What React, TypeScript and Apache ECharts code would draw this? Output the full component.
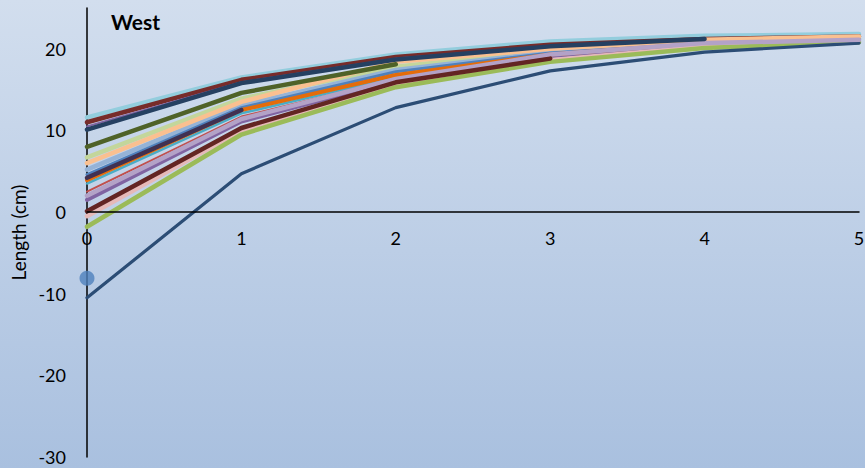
import React, { useEffect, useRef } from "react";
import * as echarts from "echarts";

const xValues = [0, 1, 2, 3, 4, 5];

const seriesNames = [
  "s1", "s2", "s3", "s4", "s5", "s6", "s7", "s8", "s9", "s10",
  "s11", "s12", "s13", "s14", "s15", "s16", "s17", "s18", "s19",
];

const seriesColors = [
  "#93CDDD", "#772C2A", "#8064A2", "#254061", "#4F6228", "#C3D69B", "#FAC090",
  "#95B3D7", "#4F81BD", "#403152", "#E46C0A", "#4BACC6", "#C0504D", "#B3A2C7",
  "#8064A2", "#632523", "#E6B9B8", "#9BBB59", "#2C4D75",
];

const seriesWidths = [4.5, 4.5, 2, 4.5, 4.5, 4.5, 4.5, 4.5, 3, 4.5, 4, 2.5, 2, 4.5, 4, 4.5, 4.5, 4.5, 3.2];

const seriesLayer = [2, 2, 2, 6, 6, 2, 4, 2, 2, 6, 3, 2, 2, 4, 2, 6, 3, 3, 3];

const seriesValues: number[][] = [
  [11.6, 16.5, 19.3, 20.9, 21.6, 21.8],
  [11.0, 16.2, 19.0, 20.5, 21.2, 21.5],
  [10.5, 15.9, 18.8, 20.3, 21.1, 21.4],
  [10.1, 15.8, 18.7, 20.3, 21.2],
  [8.0, 14.6, 18.1],
  [6.7, 13.9, 17.8, 19.8, 20.9, 21.3],
  [6.0, 13.5, 18.4, 20.0, 21.1, 21.5],
  [5.2, 13.1, 17.4, 19.6, 20.8, 21.2],
  [4.6, 12.8, 17.2, 19.5, 20.7, 21.2],
  [4.2, 12.5],
  [3.9, 12.5, 16.8, 19.3, 20.7, 21.2],
  [3.5, 12.1, 16.5, 19.3, 20.6, 21.1],
  [2.5, 11.7, 16.3, 19.2, 20.6, 21.1],
  [2.0, 11.4, 16.3, 19.3, 20.7, 21.1],
  [1.5, 11.1, 16.1, 19.1, 20.6, 21.0],
  [0.1, 10.3, 15.9, 18.8],
  [-0.5, 10.0, 15.6, 18.6, 20.3, 20.9],
  [-1.8, 9.5, 15.3, 18.4, 20.1, 20.8],
  [-10.5, 4.7, 12.8, 17.3, 19.6, 20.7],
];

const pointValue: [number, number] = [0, -8.1];

const yTicks = [-30, -20, -10, 0, 10, 20];
const yMin = -30;
const yMax = 25;

export default function App() {
  const ref = useRef<HTMLDivElement>(null);
  useEffect(() => {
    if (!ref.current) return;
    const chart = echarts.init(ref.current, null, { renderer: "svg" });
    const font = "Lato, 'Open Sans', sans-serif";
    const gridTop = 8;
    const gridBottom = 11;
    const plotH = 468 - gridTop - gridBottom;
    const zeroFromBottom = ((0 - yMin) / (yMax - yMin)) * plotH;
    const lineSeries = seriesValues.map((vals, i) => ({
      name: seriesNames[i],
      type: "line",
      data: vals.map((v, j) => [xValues[j], v]),
      showSymbol: false,
      symbol: "none",
      lineStyle: { color: seriesColors[i], width: seriesWidths[i], cap: "round", join: "round" },
      itemStyle: { color: seriesColors[i] },
      z: seriesLayer[i],
      silent: true,
    }));
    chart.setOption({
      animation: false,
      backgroundColor: {
        type: "linear",
        x: 0, y: 0, x2: 0, y2: 1,
        colorStops: [
          { offset: 0, color: "#d2deee" },
          { offset: 1, color: "#a9c0df" },
        ],
      },
      title: {
        text: "West",
        left: 106,
        top: 6,
        textStyle: { fontFamily: font, fontSize: 21, fontWeight: "bold", color: "#000" },
      },
      grid: { left: 87, right: 6, top: gridTop, bottom: gridBottom, containLabel: false, outerBoundsMode: "none" },
      xAxis: {
        type: "value",
        min: 0,
        max: 5,
        interval: 1,
        position: "bottom",
        offset: -zeroFromBottom,
        axisLine: { show: true, onZero: false, lineStyle: { color: "#000", width: 1.5 } },
        axisTick: { show: false },
        splitLine: { show: false },
        axisLabel: { color: "#000", fontFamily: font, fontSize: 18, margin: 17 },
        z: 10,
      },
      yAxis: {
        type: "value",
        min: yMin,
        max: yMax,
        interval: 10,
        name: "Length (cm)",
        nameLocation: "middle",
        nameGap: 57,
        nameTextStyle: { color: "#000", fontFamily: font, fontSize: 19 },
        axisLine: { show: true, onZero: false, lineStyle: { color: "#000", width: 1.5 } },
        axisTick: { show: false },
        splitLine: { show: false },
        axisLabel: {
          color: "#000",
          fontFamily: font,
          fontSize: 18,
          margin: 21,
          formatter: (v: number) => (yTicks.includes(v) ? String(v) : ""),
        },
        z: 1,
      },
      series: [
        ...lineSeries,
        {
          type: "scatter",
          data: [pointValue],
          symbolSize: 15,
          itemStyle: { color: "#4F81BD" },
          z: 7,
          silent: true,
        },
      ],
    });
    return () => chart.dispose();
  }, []);
  return (
    <div
      ref={ref}
      style={{ position: "absolute", left: 0, top: 0, width: 865, height: 468 }}
    />
  );
}
